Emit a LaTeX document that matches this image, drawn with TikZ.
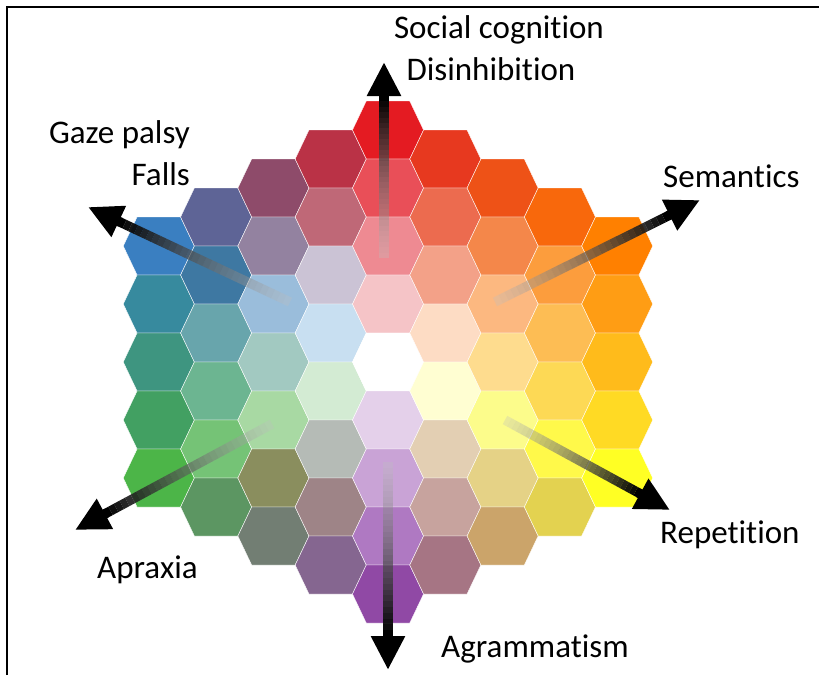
\documentclass[tikz,border=0pt]{standalone}
\usepackage{fontspec}
\setmainfont[Ligatures=NoCommon]{Carlito}
\usetikzlibrary{arrows.meta,calc}

\tikzset{
  hexcell/.style={draw=white, line width=0.35pt},
  lab/.style={font=\fontsize{33}{40}\selectfont, inner sep=0pt},
  shaft/.style={line width=9.5pt},
}

% arrow that fades out towards its tail
\newcommand{\fadearrow}[2]{%
  \coordinate (hb) at ($(#2)!34pt!(#1)$);
  \foreach \i in {0,...,29}{
    \pgfmathsetmacro\s{\i/30}
    \pgfmathsetmacro\e{(\i+1)/30}
    \pgfmathsetmacro\p{25+75*\i/29}
    \pgfmathsetmacro\o{0.3+0.7*\i/29}
    \draw[shaft, black!\p!white, opacity=\o] ($(#1)!\s!(hb)$) -- ($(#1)!\e!(hb)$);
  }
  \draw[shaft, -{Triangle[length=34pt,width=32pt]}] ($(hb)!-2pt!(#2)$) -- (#2);
}

\begin{document}
\begin{tikzpicture}[x=1pt,y=-1pt]
  \useasboundingbox (0,0) rectangle (819,675);

  % frame
  \draw[line width=2.5pt] (7,675) -- (7,7) -- (819,7);

  % hexagons: column q, row r, colour
  \foreach \q/\r/\c in {
    -4/0/3A7FC1, -4/1/378A9E, -4/2/3E9580, -4/3/42A062, -4/4/4CB548,
    -3/-1/5E6496, -3/0/3E78A2, -3/1/68A5AC, -3/2/6CB591, -3/3/75C376, -3/4/5C9662,
    -2/-2/8E4B6A, -2/-1/9382A0, -2/0/9ABDDB, -2/1/A2C9C1, -2/2/A8D9A3, -2/3/8A8E5E, -2/4/727E73,
    -1/-3/BA3246, -1/-2/BF6877, -1/-1/CBC3D5, -1/0/C8DFF1, -1/1/D3EBD3, -1/2/B5BBB6, -1/3/9E8487, -1/4/856690,
    0/-4/E41B22, 0/-3/E94F58, 0/-2/EE8A92, 0/-1/F5C4C7, 0/0/FFFFFF, 0/1/E4D0EA, 0/2/C9A3D6, 0/3/AF79C2, 0/4/9049A5,
    1/-4/E7391F, 1/-3/EC6B4F, 1/-2/F3A188, 1/-1/FDDCC4, 1/0/FFFED2, 1/1/E3CFB3, 1/2/C7A39E, 1/3/A67584,
    2/-4/EE5217, 2/-3/F4874A, 2/-2/FCB880, 2/-1/FEDC8E, 2/0/FCFC8B, 2/1/E5D286, 2/2/CBA46A,
    3/-4/F8680C, 3/-3/FC9D3D, 3/-2/FDBD54, 3/-1/FDD955, 3/0/FFF94A, 3/1/E3D250,
    4/-4/FF8000, 4/-3/FF9D14, 4/-2/FFBB1B, 4/-1/FFDA24, 4/0/FFFF24}{
    \pgfmathsetmacro\hx{388+57.3*\q}
    \pgfmathsetmacro\hy{362+58*(\r+\q/2)}
    \definecolor{hc}{HTML}{\c}
    \filldraw[hexcell, fill=hc] (\hx,\hy) ++(-35.5,0) -- ++(13.8,-29) -- ++(43.4,0)
      -- ++(13.8,29) -- ++(-13.8,29) -- ++(-43.4,0) -- cycle;
  }

  % labels
  \node[lab] (social) at (499,30) {Social cognition};
  \node[lab] (disinh) at (491,69) {Disinhibition};
  \node[lab, anchor=east] (gaze) at (190,135) {Gaze palsy};
  \node[lab, anchor=east] (falls) at (190,174) {Falls};
  \node[lab, anchor=west] (seman) at (663,176) {Semantics};
  \node[lab, anchor=west] (repet) at (660,535) {Repetition};
  \node[lab, anchor=west] (aprax) at (97,570) {Apraxia};
  \node[lab, anchor=west] (agram) at (441,649) {Agrammatism};

  % arrow ends
  \coordinate (upT) at (384,258);   \coordinate (upH) at (384,62);
  \coordinate (dnT) at (388,462);   \coordinate (dnH) at (388,670);
  \coordinate (ulT) at (290,302);   \coordinate (ulH) at (88,207);
  \coordinate (urT) at (495,302);   \coordinate (urH) at (700,200);
  \coordinate (llT) at (272,424);   \coordinate (llH) at (75,530);
  \coordinate (lrT) at (505,420);   \coordinate (lrH) at (670,510);

  \fadearrow{upT}{upH}
  \fadearrow{dnT}{dnH}
  \fadearrow{ulT}{ulH}
  \fadearrow{urT}{urH}
  \fadearrow{llT}{llH}
  \fadearrow{lrT}{lrH}

\end{tikzpicture}
\end{document}
